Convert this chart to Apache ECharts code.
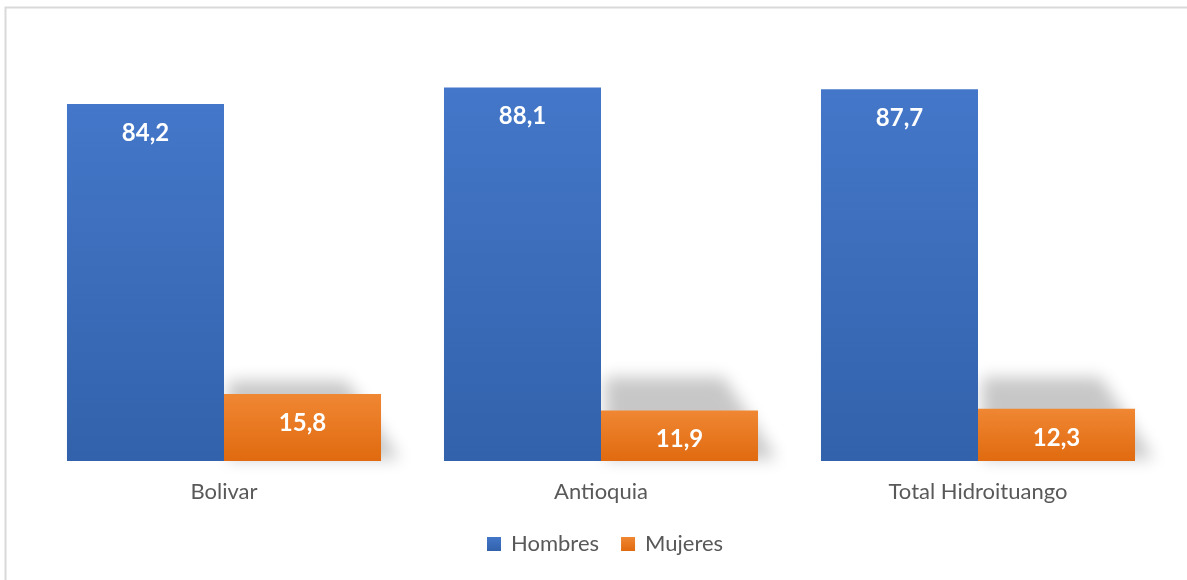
<!DOCTYPE html>
<html><head><meta charset="utf-8">
<script src="https://cdn.jsdelivr.net/npm/echarts@6/dist/echarts.min.js"></script>
<style>html,body{margin:0;padding:0;background:#fff}#c{width:1187px;height:580px}</style>
</head><body><div id="c"></div>
<script>
const categories = ['Bolivar', 'Antioquia', 'Total Hidroituango'];
const hombres = [84.2, 88.1, 87.7];
const mujeres = [15.8, 11.9, 12.3];
const seriesNames = ['Hombres', 'Mujeres'];

const chart = echarts.init(document.getElementById('c'));
const FONT = 'Lato, "Open Sans", sans-serif';
const catGap = 0.167;
const fmt = p => String(p.value).replace('.', ',');
const lbl = {show: true, position: 'insideTop', distance: 17, color: '#fff', fontSize: 24, fontWeight: 'bold', fontFamily: FONT, formatter: fmt};
const OFF = 3000;

chart.setOption({
  animation: false,
  graphic: [{type: 'rect', shape: {x: 5.5, y: 7.5, width: 1300, height: 700}, style: {fill: 'none', stroke: '#d9d9d9', lineWidth: 2}, silent: true, z: -10}],
  grid: {left: 35.5, right: 20.5, top: 37, bottom: 119},
  xAxis: {type: 'category', data: categories, axisLine: {show: false}, axisTick: {show: false},
    axisLabel: {color: '#595959', fontSize: 22, fontFamily: FONT, margin: 20}},
  yAxis: {type: 'value', min: 0, max: 100, show: false, splitLine: {show: false}},
  legend: {bottom: 20, left: 482, itemWidth: 14, itemHeight: 14, itemGap: 22, icon: 'rect',
    textStyle: {color: '#595959', fontSize: 22, fontFamily: FONT, padding: [0, 0, 0, 5]}, data: seriesNames},
  series: [
    {type: 'custom', silent: true, z: 1, clip: false, data: hombres.map((v, i) => [i, v]),
     renderItem: function (params, api) {
       const base = api.coord([api.value(0), 0]);
       const band = api.size([1, 0])[0];
       const w = band * (1 - catGap) / 2;
       const top = api.coord([api.value(0), api.value(1)]);
       const h = base[1] - top[1];
       const cx = base[0] + OFF;
       const sy = base[1] - 0.225 * h;
       return {type: 'polygon', shape: {points: [[cx + 4, sy], [cx + 0.78 * w, sy], [cx + 1.12 * w, base[1] - 2], [cx + 4, base[1] - 2]]},
         style: {fill: '#000', shadowBlur: 16, shadowColor: 'rgba(0,0,0,0.22)', shadowOffsetX: -OFF, shadowOffsetY: 0}};
     }},
    {name: 'Hombres', type: 'bar', z: 2, data: hombres, barGap: '0%', barCategoryGap: '16.7%',
     itemStyle: {color: {type: 'linear', x: 0, y: 0, x2: 0, y2: 1, colorStops: [{offset: 0, color: '#4477c9'}, {offset: 1, color: '#3262ab'}]}},
     label: lbl},
    {name: 'Mujeres', type: 'bar', z: 3, data: mujeres, barGap: '0%', barCategoryGap: '16.7%',
     itemStyle: {color: {type: 'linear', x: 0, y: 0, x2: 0, y2: 1, colorStops: [{offset: 0, color: '#f08733'}, {offset: 1, color: '#e06a0f'}]}},
     label: lbl}
  ]
});
</script></body></html>
